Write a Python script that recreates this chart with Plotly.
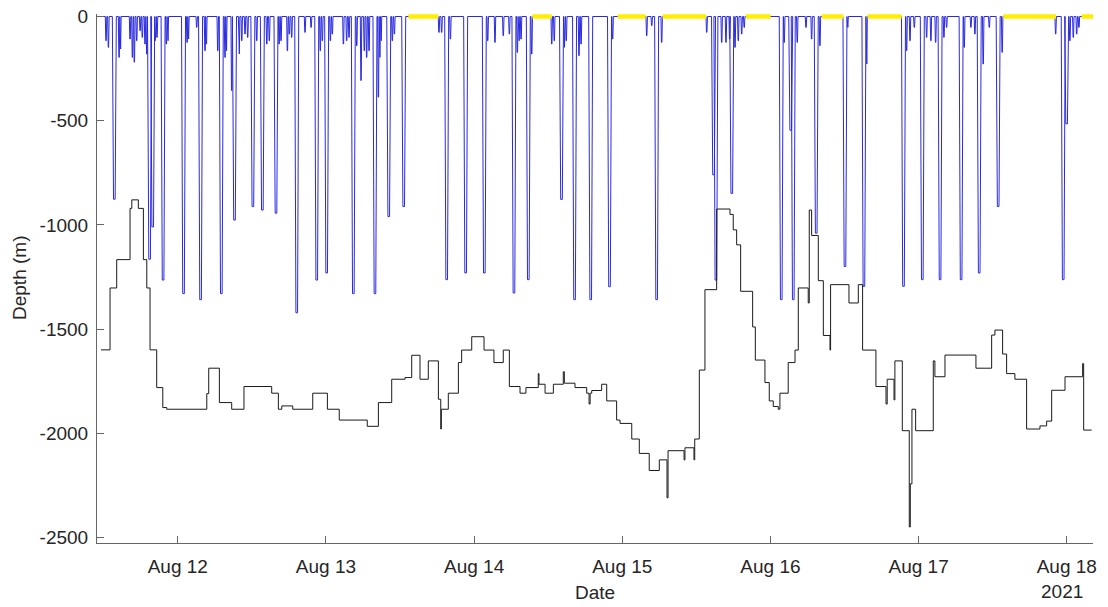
import numpy as np
import pandas as pd
import plotly.graph_objects as go

# Times are decimal days of August 2021 (12.5 = Aug 12 12:00), depths in metres.

# deep foraging dives: time of bottom phase, max depth
deep_day = [11.572, 11.810, 11.831, 11.901, 12.039, 12.154, 12.294, 12.383, 12.507, 12.571,
            12.663, 12.803, 12.938, 13.005, 13.185, 13.331, 13.424, 13.525, 13.815, 13.943,
            14.069, 14.269, 14.366, 14.590, 14.678, 14.787, 14.914, 15.232, 15.616, 15.632,
            15.739, 16.073, 16.137, 16.154, 16.309, 16.503, 16.631, 16.898, 17.025, 17.145,
            17.287, 17.409, 17.537, 17.976, 17.999]
deep_depth = [877, 1165, 1010, 1265, 1330, 1359, 1330, 977, 912, 929,
              944, 1422, 1265, 1231, 1330, 1330, 960, 912, 1263, 1231,
              1231, 1327, 1263, 878, 1359, 1359, 1297, 1359, 760, 1265,
              849, 1359, 546, 1359, 1040, 1200, 1295, 1295, 1263, 1263,
              1263, 1231, 912, 1263, 515]

# shallow dives between the deep ones
shallow_day = [11.516, 11.532, 11.604, 11.613, 11.678, 11.694, 11.707, 11.723, 11.746, 11.761,
               11.779, 11.791, 11.847, 11.860, 11.923, 11.933, 12.063, 12.072, 12.128, 12.184,
               12.193, 12.270, 12.319, 12.328, 12.364, 12.414, 12.432, 12.454, 12.472, 12.533,
               12.601, 12.618, 12.684, 12.697, 12.740, 12.753, 12.769, 12.859, 12.900, 12.962,
               12.976, 13.030, 13.043, 13.118, 13.140, 13.156, 13.208, 13.237, 13.259, 13.275,
               13.291, 13.354, 13.363, 13.372, 13.448, 13.462, 13.763, 13.781, 13.840, 14.092,
               14.141, 14.197, 14.238, 14.292, 14.303, 14.317, 14.389, 14.524, 14.541, 14.609,
               14.622, 14.708, 14.722, 14.935, 15.165, 15.199, 15.266, 15.570, 15.671, 15.700,
               15.725, 15.761, 15.783, 15.806, 15.823, 16.093, 16.181, 16.240, 16.278, 16.334,
               16.521, 16.649, 16.919, 16.942, 16.971, 17.054, 17.083, 17.115, 17.171, 17.189,
               17.308, 17.353, 17.380, 17.436, 17.477, 17.564, 17.925, 18.021, 18.044, 18.067,
               18.082]
shallow_depth = [116, 148, 196, 156, 108, 196, 219, 116, 68, 100,
                 132, 180, 116, 100, 132, 116, 124, 108, 52, 164,
                 132, 164, 196, 164, 355, 180, 116, 84, 100, 116,
                 132, 116, 132, 116, 164, 84, 100, 76, 52, 164,
                 116, 116, 84, 132, 116, 100, 140, 307, 164, 196,
                 164, 387, 196, 116, 116, 84, 76, 76, 108, 116,
                 124, 92, 84, 172, 116, 108, 180, 132, 116, 148,
                 116, 188, 132, 108, 92, 44, 124, 76, 124, 124,
                 108, 148, 116, 84, 52, 124, 124, 52, 108, 140,
                 52, 228, 164, 116, 52, 100, 116, 124, 100, 52,
                 148, 52, 84, 228, 52, 172, 84, 116, 100, 84,
                 52]

# record limits of the dive profile
track_start, track_end = 11.460, 18.179

# surface periods (yellow)
surface_start = [13.556, 14.393, 14.969, 15.272, 15.833, 16.346, 16.655, 17.571, 18.100]
surface_end = [13.759, 14.524, 15.158, 15.565, 16.002, 16.492, 16.886, 17.927, 18.179]

# seafloor depth under the animal (step changes)
bathy_day = [11.482, 11.543, 11.588, 11.678, 11.690, 11.734, 11.768, 11.791, 11.813, 11.858,
             11.899, 11.926, 12.196, 12.209, 12.281, 12.364, 12.447, 12.634, 12.679, 12.702,
             12.776, 12.911, 13.010, 13.090, 13.279, 13.354, 13.444, 13.534, 13.579, 13.635,
             13.691, 13.759, 13.775, 13.779, 13.826, 13.894, 13.916, 13.984, 14.067, 14.134,
             14.197, 14.238, 14.310, 14.350, 14.433, 14.438, 14.479, 14.535, 14.602, 14.609,
             14.681, 14.760, 14.776, 14.783, 14.794, 14.861, 14.895, 14.962, 14.985, 15.064,
             15.115, 15.182, 15.250, 15.302, 15.309, 15.417, 15.423, 15.484, 15.489, 15.520,
             15.558, 15.637, 15.727, 15.749, 15.772, 15.799, 15.880, 15.898, 15.963, 15.992,
             16.019, 16.053, 16.064, 16.120, 16.166, 16.188, 16.255, 16.262, 16.278, 16.323,
             16.357, 16.402, 16.406, 16.530, 16.593, 16.622, 16.712, 16.780, 16.788, 16.834,
             16.840, 16.890, 16.937, 16.944, 16.955, 16.980, 17.099, 17.110, 17.178, 17.387,
             17.493, 17.515, 17.567, 17.594, 17.650, 17.729, 17.819, 17.864, 17.898, 17.988,
             18.107, 18.114, 18.168]
bathy_depth = [1600, 1303, 1167, 921, 880, 921, 1167, 1303, 1600, 1781,
               1877, 1885, 1810, 1688, 1853, 1885, 1776, 1808, 1885, 1869,
               1885, 1808, 1885, 1937, 1967, 1853, 1741, 1733, 1626, 1741,
               1653, 1837, 1980, 1885, 1808, 1661, 1601, 1537, 1601, 1661,
               1601, 1776, 1808, 1781, 1714, 1765, 1808, 1765, 1705, 1760,
               1781, 1808, 1860, 1808, 1795, 1765, 1845, 1937, 1953, 2028,
               2097, 2179, 2128, 2310, 2084, 2128, 2070, 2128, 2028, 1697,
               1311, 924, 950, 1024, 1096, 1319, 1490, 1649, 1757, 1845,
               1872, 1885, 1808, 1661, 1601, 1303, 1375, 929, 1051, 1268,
               1531, 1601, 1287, 1375, 1287, 1601, 1776, 1860, 1741, 1840,
               1653, 1988, 2450, 2243, 1885, 1988, 1653, 1729, 1625, 1688,
               1529, 1505, 1620, 1714, 1741, 1980, 1965, 1942, 1794, 1729,
               1666, 1985, 1985]

tick_days = [12, 13, 14, 15, 16, 17, 18]
tick_text = ["Aug 12", "Aug 13", "Aug 14", "Aug 15", "Aug 16", "Aug 17", "Aug 18"]
depth_ticks = [0, -500, -1000, -1500, -2000, -2500]


def to_time(days):
    return pd.Timestamp("2021-08-01") + pd.to_timedelta(np.asarray(days, dtype=float) - 1, unit="D")


def build_profile():
    # each dive: (centre, depth, half width at surface, half width at bottom)
    dives = [(d, z, 0.0135, 0.0055) for d, z in zip(deep_day, deep_depth)]
    dives += [(d, z, 0.0050, 0.0015) for d, z in zip(shallow_day, shallow_depth)]
    dives.sort()
    t, z = [track_start], [0.0]
    for c, dep, top, bot in dives:
        t += [c - top, c - bot, c + bot, c + top]
        z += [0.0, -dep, -dep, 0.0]
    t.append(track_end)
    z.append(0.0)
    return to_time(t), z


prof_t, prof_z = build_profile()

yel_t, yel_z = [], []
for s, e in zip(surface_start, surface_end):
    yel_t += list(to_time([s, e])) + [None]
    yel_z += [0, 0, None]

bathy_t = list(to_time(bathy_day))
bathy_z = [-v for v in bathy_depth]

fig = go.Figure()
fig.add_trace(go.Scatter(x=prof_t, y=prof_z, mode="lines",
                         line=dict(color="#2a2ae0", width=1), showlegend=False))
fig.add_trace(go.Scatter(x=yel_t, y=yel_z, mode="lines",
                         line=dict(color="#ffee00", width=4.5), showlegend=False))
fig.add_trace(go.Scatter(x=bathy_t, y=bathy_z, mode="lines",
                         line=dict(color="#1a1a1a", width=1, shape="hv"), showlegend=False))

font = dict(family="Liberation Sans, Arial, sans-serif", size=19, color="#262626")
axis_style = dict(showgrid=False, zeroline=False, showline=True, linecolor="#666666",
                  linewidth=1, ticks="inside", ticklen=7, tickcolor="#666666",
                  tickfont=font, mirror=False, automargin=False)

fig.update_layout(
    width=1108, height=607,
    margin=dict(l=97, r=15, t=14, b=64),
    paper_bgcolor="white", plot_bgcolor="white",
    font=font,
    xaxis=dict(type="date", range=list(to_time([11.455, 18.177])),
               tickvals=list(to_time(tick_days)), ticktext=tick_text,
               ticklabelstandoff=6, **axis_style),
    yaxis=dict(range=[-2527, 12], tickvals=depth_ticks,
               ticktext=[str(v) for v in depth_ticks],
               ticklabelstandoff=4, **axis_style),
    annotations=[
        dict(text="Date", x=0.5, y=-0.0945, xref="paper", yref="paper",
             showarrow=False, font=font, xanchor="center", yanchor="middle"),
        dict(text="2021", x=0.9689, y=-0.0926, xref="paper", yref="paper",
             showarrow=False, font=font, xanchor="center", yanchor="middle"),
        dict(text="Depth (m)", x=-0.0773, y=0.501, xref="paper", yref="paper",
             showarrow=False, font=font, textangle=-90,
             xanchor="center", yanchor="middle"),
    ],
)

# drop the default page margin so the figure sits at the window's corner
fig.write_html("out.html", config={"displayModeBar": False},
               post_script="document.body.style.margin = '0';")
